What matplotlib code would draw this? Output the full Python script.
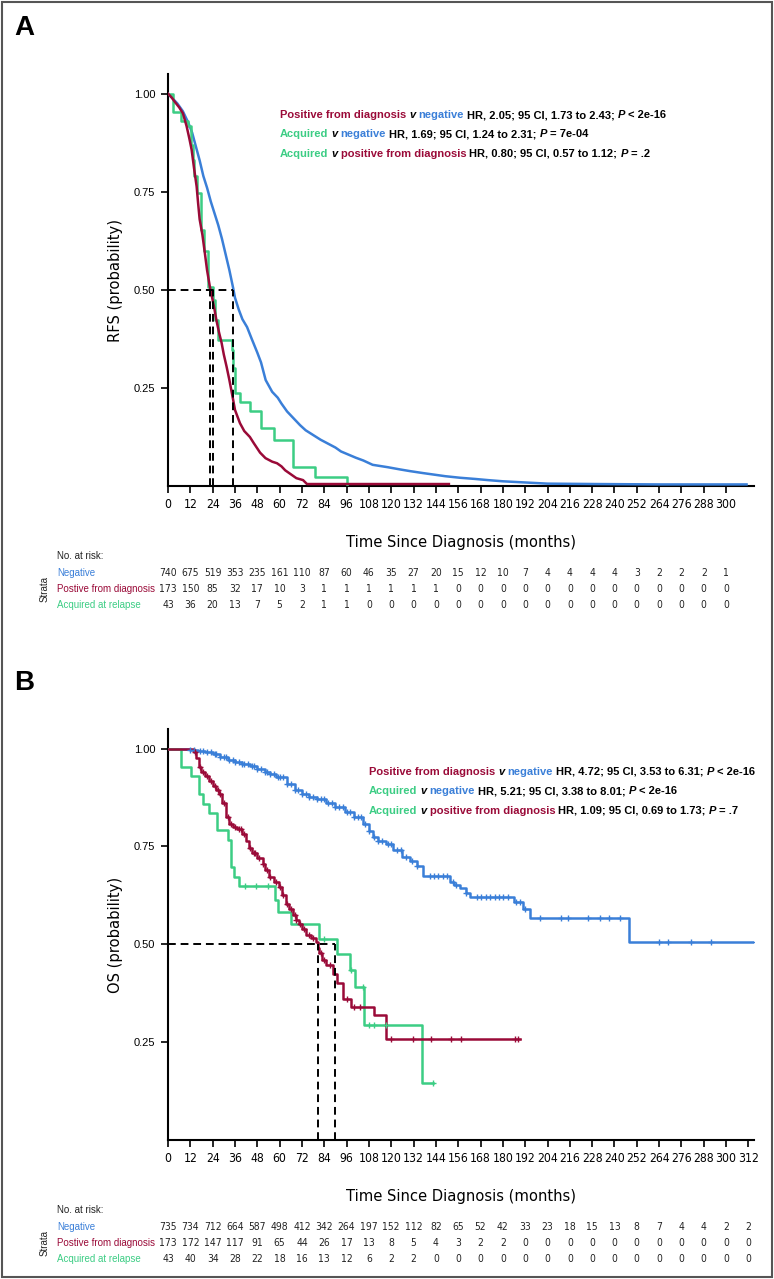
#!/usr/bin/env python3

"""Kaplan-Meier curves, RFS (A) and OS (B), with numbers at risk."""

import numpy as np
import matplotlib
matplotlib.use("Agg")
import matplotlib.pyplot as plt
import matplotlib.font_manager as fm
from matplotlib import transforms
from matplotlib.patches import Rectangle

RED = "#9a0a38"
BLUE = "#3a7fd8"
GREEN = "#3ccd84"
SANS = ["Liberation Sans", "DejaVu Sans"]

# ---- panel A: relapse-free survival ----
rfs_neg_t = [0, 2, 5, 8, 11, 13, 15, 17, 19, 21, 23, 25, 27, 29, 31, 33, 35,
             36, 38, 40, 42.5, 45, 48, 50, 52.5, 56, 59, 61, 64, 68, 71, 74,
             78, 82, 86, 90, 93, 97, 101, 105, 110, 118, 125, 130, 137, 143,
             149, 157, 165, 172, 180, 188, 196, 204, 230, 264, 311]
rfs_neg_s = [1.0, 0.99, 0.975, 0.955, 0.925, 0.90, 0.865, 0.83, 0.79, 0.76,
             0.725, 0.695, 0.665, 0.63, 0.59, 0.55, 0.505, 0.48, 0.45, 0.425,
             0.405, 0.375, 0.34, 0.315, 0.27, 0.24, 0.225, 0.21, 0.19, 0.17,
             0.155, 0.142, 0.13, 0.118, 0.108, 0.098, 0.088, 0.08, 0.072,
             0.065, 0.054, 0.048, 0.042, 0.038, 0.033, 0.029, 0.025, 0.021,
             0.018, 0.015, 0.012, 0.010, 0.008, 0.006, 0.005, 0.004, 0.004]
rfs_pos_t = [0, 2, 4, 6, 8, 10, 11.5, 12.7, 14, 15.4, 16.2, 17, 18.5, 19.8,
             21, 22.5, 24, 25, 26, 27.5, 28.8, 30, 31.5, 33, 34, 35, 36, 37.5,
             38.7, 41, 44, 46, 49.5, 52.4, 56, 58.6, 61, 63, 66, 69, 72.6,
             74.7, 151]
rfs_pos_s = [1.0, 0.99, 0.977, 0.965, 0.95, 0.917, 0.885, 0.857, 0.81, 0.763,
             0.72, 0.68, 0.64, 0.594, 0.55, 0.508, 0.474, 0.45, 0.423, 0.39,
             0.365, 0.335, 0.304, 0.27, 0.245, 0.22, 0.194, 0.175, 0.16, 0.14,
             0.125, 0.11, 0.085, 0.071, 0.062, 0.058, 0.05, 0.04, 0.03, 0.02,
             0.015, 0.005, 0.005]
rfs_acq_t = [0, 2.5, 7, 11, 12.5, 13.5, 14, 15.7, 17.6, 19.5, 21.6, 24, 25.5,
             27, 34.2, 35.2, 36, 38.7, 44, 50, 57, 67, 79, 96, 96]
rfs_acq_s = [1.0, 0.953, 0.93, 0.917, 0.87, 0.83, 0.79, 0.747, 0.653, 0.60,
             0.508, 0.474, 0.423, 0.372, 0.347, 0.30, 0.236, 0.214, 0.19,
             0.147, 0.118, 0.049, 0.024, 0.0, 0.0]
rfs_medians = [22.6, 24.2, 35.1]

# ---- panel B: overall survival ----
os_neg_t = [0, 10, 12, 16, 20, 24, 28, 32, 36, 40, 44, 48, 52, 55, 58, 64,
            68, 72, 76, 80, 85, 90, 95, 100, 105, 108, 110, 113, 117, 121,
            126, 130, 134, 137, 151.5, 154, 157, 160, 162.6, 186, 191, 194.5,
            248, 316]
os_neg_s = [1.0, 1.0, 0.997, 0.993, 0.99, 0.985, 0.978, 0.972, 0.966, 0.96,
            0.955, 0.948, 0.94, 0.934, 0.927, 0.91, 0.895, 0.885, 0.876, 0.87,
            0.86, 0.85, 0.838, 0.825, 0.808, 0.79, 0.775, 0.765, 0.755, 0.74,
            0.723, 0.712, 0.70, 0.675, 0.66, 0.652, 0.645, 0.632, 0.62, 0.607,
            0.59, 0.566, 0.505, 0.505]
os_neg_cens = [12, 14, 17, 19, 21, 23, 25, 26, 28, 30, 31, 33, 35, 36, 38, 40,
               41, 43, 45, 46, 48, 50, 52, 53, 55, 57, 59, 60, 62, 64, 66, 68,
               70, 72, 74, 76, 78, 80, 82, 84, 86, 88, 90, 92, 94, 96, 98, 100,
               102, 104, 106, 108, 111, 113, 115, 118, 120, 123, 125, 128, 131,
               134, 141, 143, 145, 148, 150, 153, 155, 160, 166, 168, 171, 173,
               176, 178, 180, 183, 187, 189, 192, 200, 211, 215, 226, 232, 237,
               243, 264, 269, 281, 292, 316]
os_pos_t = [0, 13, 14, 15, 16.7, 18, 20, 22, 24, 26, 27.5, 29, 31, 33, 35, 37,
            40, 42, 43.6, 45, 48, 50.8, 52, 54.4, 57, 59.8, 61.5, 63.4, 65, 67,
            69, 70.6, 72, 74, 77, 79.6, 80.5, 81.4, 83, 85, 88.5, 91, 94, 98.4,
            111, 117, 189]
os_pos_s = [1.0, 1.0, 0.99, 0.975, 0.952, 0.94, 0.93, 0.918, 0.905, 0.895,
            0.884, 0.86, 0.825, 0.808, 0.80, 0.795, 0.783, 0.765, 0.745, 0.732,
            0.72, 0.706, 0.69, 0.671, 0.66, 0.646, 0.625, 0.603, 0.59, 0.574,
            0.563, 0.553, 0.54, 0.523, 0.515, 0.506, 0.49, 0.477, 0.46, 0.446,
            0.425, 0.40, 0.361, 0.34, 0.319, 0.259, 0.259]
os_pos_cens = [14.5, 17, 19, 21, 23, 25, 27, 28, 30, 32, 34, 36, 38, 39, 41,
               44, 46, 47, 49, 51, 53, 55, 58, 60, 62, 64, 66, 68, 69, 71, 73,
               76, 78, 82, 84, 87, 96, 100, 103, 120, 131.6, 141.5, 152, 157.7,
               186.4, 188.2]
os_acq_t = [0, 6.8, 12.2, 16.7, 18.8, 22, 26.6, 32, 33.8, 35.6, 38.3, 57.5,
            59.2, 66.3, 81.2, 90.8, 97.6, 100.6, 105.4, 136.6, 142.4]
os_acq_s = [1.0, 0.952, 0.929, 0.884, 0.859, 0.835, 0.791, 0.767, 0.697,
            0.672, 0.65, 0.614, 0.582, 0.551, 0.514, 0.474, 0.434, 0.391,
            0.293, 0.145, 0.145]
os_acq_cens = [41.2, 47.4, 54, 83.7, 98.3, 104.6, 108, 110.8, 117, 142.4]
os_medians = [80.6, 90.0]

# ---- numbers at risk ----
strata = ["Negative", "Postive from diagnosis", "Acquired at relapse"]
risk_times_a = list(range(0, 301, 12))
risk_a_neg = [740, 675, 519, 353, 235, 161, 110, 87, 60, 46, 35, 27, 20, 15,
              12, 10, 7, 4, 4, 4, 4, 3, 2, 2, 2, 1]
risk_a_pos = [173, 150, 85, 32, 17, 10, 3, 1, 1, 1, 1, 1, 1] + [0] * 13
risk_a_acq = [43, 36, 20, 13, 7, 5, 2, 1, 1] + [0] * 17
risk_times_b = list(range(0, 313, 12))
risk_b_neg = [735, 734, 712, 664, 587, 498, 412, 342, 264, 197, 152, 112, 82,
              65, 52, 42, 33, 23, 18, 15, 13, 8, 7, 4, 4, 2, 2]
risk_b_pos = [173, 172, 147, 117, 91, 65, 44, 26, 17, 13, 8, 5, 4, 3, 2, 2] + [0] * 11
risk_b_acq = [43, 40, 34, 28, 22, 18, 16, 13, 12, 6, 2, 2] + [0] * 15

# ---- hazard ratio statements ----
hr_a = [
    ("Positive from diagnosis", RED, "negative", BLUE,
     "HR, 2.05; 95 CI, 1.73 to 2.43;", "< 2e-16"),
    ("Acquired", GREEN, "negative", BLUE,
     "HR, 1.69; 95 CI, 1.24 to 2.31;", "= 7e-04"),
    ("Acquired", GREEN, "positive from diagnosis", RED,
     "HR, 0.80; 95 CI, 0.57 to 1.12;", "= .2"),
]
hr_b = [
    ("Positive from diagnosis", RED, "negative", BLUE,
     "HR, 4.72; 95 CI, 3.53 to 6.31;", "< 2e-16"),
    ("Acquired", GREEN, "negative", BLUE,
     "HR, 5.21; 95 CI, 3.38 to 8.01;", "< 2e-16"),
    ("Acquired", GREEN, "positive from diagnosis", RED,
     "HR, 1.09; 95 CI, 0.69 to 1.73;", "= .7"),
]

W, H = 774, 1279


def find_narrow():
    """Look for a condensed face (Liberation Sans Narrow, DejaVu Sans Condensed)."""
    best = None
    for f in fm.fontManager.ttflist:
        low = f.fname.lower()
        if "bold" in low or "oblique" in low or "italic" in low:
            continue
        if "narrow" in low and "liberation" in low:
            return f.fname, 1.0
        if "condensed" in low and best is None:
            best = f.fname
    if best:
        return best, 0.92
    return None, 0.82


NARROW_FILE, NARROW_SCALE = find_narrow()


def narrow(size):
    if NARROW_FILE:
        return fm.FontProperties(fname=NARROW_FILE, size=size * NARROW_SCALE)
    return fm.FontProperties(family=SANS, size=size * NARROW_SCALE)


def fx(px):
    return px / W


def fy(py):
    return 1 - py / H


def km(ax, t, s, color, cens=None, steps=True):
    if steps:
        ax.step(t, s, where="post", color=color, lw=1.8, zorder=3)
    else:
        ax.plot(t, s, color=color, lw=1.8, zorder=3)
    if cens:
        t = np.asarray(t)
        s = np.asarray(s)
        idx = np.searchsorted(t, cens, side="right") - 1
        ax.plot(cens, s[idx], "+", color=color, ms=5, mew=1.0, zorder=4)


def style_axes(ax, ticks, ylabel):
    ax.set_xlim(0, 315)
    ax.set_ylim(0, 1.05)
    for side in ("top", "right"):
        ax.spines[side].set_visible(False)
    for side in ("left", "bottom"):
        ax.spines[side].set_linewidth(1.5)
    ax.set_xticks(ticks)
    ax.set_xticklabels([str(t) for t in ticks], fontproperties=narrow(9.5))
    ax.set_yticks([0.25, 0.5, 0.75, 1.0])
    ax.set_yticklabels(["0.25", "0.50", "0.75", "1.00"], family=SANS,
                       fontsize=8)
    ax.tick_params(direction="out", length=5, width=1.2, pad=4)
    ax.set_xlabel("Time Since Diagnosis (months)", fontproperties=narrow(12.8))
    ax.set_ylabel(ylabel, fontproperties=narrow(12.8))
    ax.xaxis.set_label_coords(0.5, -0.119)
    ax.yaxis.set_label_coords(-0.076, 0.5)


def hr_lines(fig, ax, x, y0, rows):
    gap = 2.2
    for i, (a, ca, b, cb, hr, p) in enumerate(rows):
        parts = [(a, ca, "normal", 0), ("v", "black", "italic", gap),
                 (b, cb, "normal", gap), (hr, "black", "normal", gap),
                 ("P", "black", "italic", gap), (p, "black", "normal", gap)]
        prev = None
        for text, color, style, g in parts:
            kw = dict(color=color, fontsize=8, fontweight="bold",
                      fontstyle=style, family=SANS, ha="left")
            if prev is None:
                prev = ax.text(fx(x), fy(y0 + i * 19.3), text,
                               transform=fig.transFigure, va="center", **kw)
            else:
                prev = ax.annotate(text, xy=(1, 0), xycoords=prev,
                                   xytext=(g, 0), textcoords="offset points",
                                   va="bottom", annotation_clip=False, **kw)


def risk_table(fig, ax, times, rows, y_head):
    tr = transforms.blended_transform_factory(ax.transData, fig.transFigure)
    fig.text(fx(57), fy(y_head), "No. at risk:", family=SANS, fontsize=7,
             va="center", color="#222222")
    ys = [y_head + 16.5, y_head + 32.5, y_head + 49]
    for name, color, vals, y in zip(strata, (BLUE, RED, GREEN), rows, ys):
        fig.text(fx(57), fy(y), name, family=SANS, fontsize=7, color=color,
                 va="center")
        for t, v in zip(times, vals):
            ax.text(t, fy(y), str(v), transform=tr, ha="center", va="center",
                    fontproperties=narrow(8), color="#222222")
    fig.text(fx(45), fy(ys[1]), "Strata", rotation=90, family=SANS,
             fontsize=7, ha="center", va="center", color="#222222")


fig = plt.figure(figsize=(W / 100, H / 100), dpi=100)

ax_a = fig.add_axes([fx(168), fy(486), fx(754) - fx(168), fy(74) - fy(486)])
ax_b = fig.add_axes([fx(168), fy(1140), fx(754) - fx(168), fy(729) - fy(1140)])

# panel A
km(ax_a, rfs_neg_t, rfs_neg_s, BLUE, steps=False)
km(ax_a, rfs_acq_t, rfs_acq_s, GREEN)
km(ax_a, rfs_pos_t, rfs_pos_s, RED, steps=False)
ax_a.plot([0, max(rfs_medians)], [0.5, 0.5], color="black", lw=1.4,
          ls=(0, (4, 2.5)), zorder=5)
ax_a.vlines(rfs_medians, 0, 0.5, color="black", lw=1.4,
            linestyles=[(0, (4, 2.5))], zorder=5)
style_axes(ax_a, risk_times_a, "RFS (probability)")

# panel B
km(ax_b, os_neg_t, os_neg_s, BLUE, os_neg_cens)
km(ax_b, os_acq_t, os_acq_s, GREEN, os_acq_cens)
km(ax_b, os_pos_t, os_pos_s, RED, os_pos_cens)
ax_b.plot([0, max(os_medians)], [0.5, 0.5], color="black", lw=1.4,
          ls=(0, (4, 2.5)), zorder=5)
ax_b.vlines(os_medians, 0, 0.5, color="black", lw=1.4,
            linestyles=[(0, (4, 2.5))], zorder=5)
style_axes(ax_b, risk_times_b, "OS (probability)")

hr_lines(fig, ax_a, 280, 115, hr_a)
hr_lines(fig, ax_b, 369, 772, hr_b)

risk_table(fig, ax_a, risk_times_a, [risk_a_neg, risk_a_pos, risk_a_acq], 556)
risk_table(fig, ax_b, risk_times_b, [risk_b_neg, risk_b_pos, risk_b_acq], 1210)

fig.text(fx(24), fy(28), "A", fontsize=20, fontweight="bold", family=SANS,
         ha="center", va="center")
fig.text(fx(24), fy(683), "B", fontsize=20, fontweight="bold", family=SANS,
         ha="center", va="center")

fig.patches.append(Rectangle((0.002, 0.0015), 0.996, 0.997,
                             transform=fig.transFigure, fill=False,
                             ec="#555555", lw=1.5))

fig.savefig("out.png", dpi=100, facecolor="white")
